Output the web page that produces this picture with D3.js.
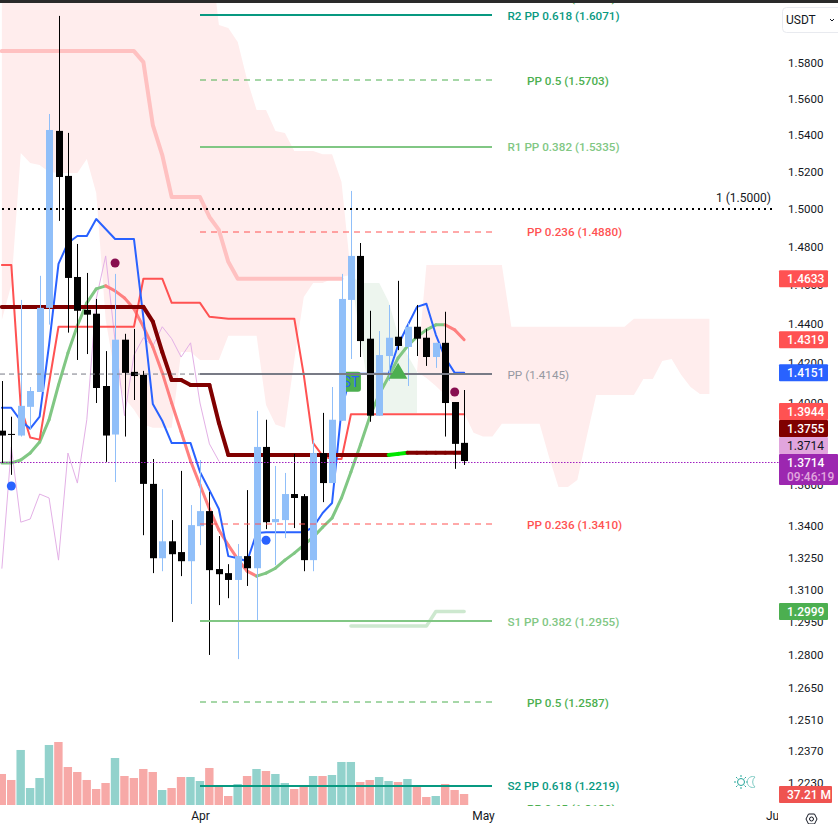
<!DOCTYPE html>
<html>
<head>
<meta charset="utf-8">
<script src="https://cdnjs.cloudflare.com/ajax/libs/d3/7.8.5/d3.min.js"></script>
<style>
  html, body { margin: 0; padding: 0; background: #fff; overflow: hidden; }
  text { font-family: Roboto, "Liberation Sans", sans-serif; }
</style>
</head>
<body>
<svg class="chart" width="838" height="824"></svg>
<script>
// daily bars, first one is 11 Mar, last one is 29 Apr
const opens = [
  1.3863, 1.3847, 1.3839, 1.3981, 1.4055, 1.4482, 1.5423, 1.5178, 1.4642, 1.4472,
  1.4452, 1.4085, 1.3844, 1.4319, 1.4156, 1.4141, 1.3603, 1.3248, 1.3328, 1.3277,
  1.3234, 1.3400, 1.3472, 1.3197, 1.3178, 1.3146, 1.3258, 1.3201, 1.3783, 1.3419,
  1.3429, 1.3554, 1.3544, 1.3239, 1.3753, 1.3607, 1.3912, 1.4523, 1.4752, 1.4324,
  1.3937, 1.4236, 1.4334, 1.4282, 1.4385, 1.4329, 1.4231, 1.4303, 1.4005, 1.3803
]
const highs = [
  1.4110, 1.3932, 1.4523, 1.4080, 1.4648, 1.5516, 1.6067, 1.5412, 1.4815, 1.4663,
  1.4528, 1.4261, 1.4658, 1.4349, 1.4374, 1.4161, 1.3724, 1.3578, 1.3429, 1.3666,
  1.3501, 1.3719, 1.3564, 1.3353, 1.3220, 1.3315, 1.3573, 1.3961, 1.3917, 1.3690,
  1.3656, 1.3749, 1.3554, 1.3817, 1.3951, 1.4080, 1.4658, 1.5097, 1.4820, 1.4467,
  1.4363, 1.4497, 1.4622, 1.4405, 1.4497, 1.4374, 1.4303, 1.4462, 1.4005, 1.4065
]
const lows = [
  1.3705, 1.3647, 1.3834, 1.3866, 1.4055, 1.4396, 1.4937, 1.4355, 1.4216, 1.4246,
  1.4000, 1.3710, 1.3612, 1.3834, 1.4015, 1.3357, 1.3178, 1.3187, 1.2951, 1.3164,
  1.3034, 1.3310, 1.2800, 1.3029, 1.3061, 1.2781, 1.3118, 1.2951, 1.3386, 1.3215,
  1.3343, 1.3391, 1.3187, 1.3187, 1.3515, 1.3607, 1.3912, 1.4221, 1.4231, 1.3907,
  1.3937, 1.4110, 1.4266, 1.4085, 1.4236, 1.4186, 1.4176, 1.3834, 1.3676, 1.3695
]
const closes = [
  1.3839, 1.3842, 1.3986, 1.4060, 1.4482, 1.5428, 1.5172, 1.4637, 1.4467, 1.4447,
  1.4075, 1.3839, 1.4319, 1.4151, 1.4135, 1.3603, 1.3248, 1.3328, 1.3267, 1.3234,
  1.3405, 1.3472, 1.3192, 1.3173, 1.3146, 1.3258, 1.3201, 1.3783, 1.3419, 1.3434,
  1.3554, 1.3535, 1.3239, 1.3753, 1.3607, 1.3917, 1.4528, 1.4752, 1.4312, 1.3937,
  1.4241, 1.4329, 1.4287, 1.4385, 1.4324, 1.4231, 1.4303, 1.4000, 1.3798, 1.3714
]
const volumes = [
  104.9, 84.6, 186.1, 57.5, 91.3, 203, 213.1, 128.5, 111.6, 84.6,
  54.1, 74.4, 159, 98.1, 91.3, 121.8, 111.6, 50.7, 57.5, 94.7,
  94.7, 81.2, 125.2, 64.3, 30.4, 71, 98.1, 121.8, 115, 104.9,
  74.4, 54.1, 64.3, 98.1, 98.1, 101.5, 145.5, 145.5, 77.8, 84.6,
  94.7, 81.2, 77.8, 88, 64.3, 27.1, 30.4, 71, 50.7, 37.21
]
const volumeSides = [
  'd', 'd', 'u', 'u', 'u', 'u', 'd', 'd', 'd', 'd',
  'd', 'd', 'u', 'd', 'd', 'd', 'd', 'u', 'd', 'd',
  'u', 'u', 'd', 'd', 'd', 'u', 'd', 'u', 'd', 'u',
  'u', 'd', 'd', 'u', 'd', 'u', 'u', 'u', 'd', 'd',
  'u', 'u', 'd', 'u', 'd', 'd', 'u', 'd', 'd', 'd'
]

// indicators, same start day as the bars
const conversionLine = [
  1.3976, 1.3976, 1.3912, 1.3873, 1.3932, 1.4292, 1.4710, 1.4820, 1.4857, 1.4857,
  1.4947, 1.4894, 1.4841, 1.4841, 1.4841, 1.4431, 1.3995, 1.3912, 1.3802, 1.3802,
  1.3802, 1.3661, 1.3573, 1.3482, 1.3258, 1.3248, 1.3234, 1.3367, 1.3371, 1.3371,
  1.3371, 1.3371, 1.3371, 1.3395, 1.3463, 1.3511, 1.3966, 1.4146, 1.4146, 1.4146,
  1.4146, 1.4146, 1.4292, 1.4390, 1.4487, 1.4503, 1.4344, 1.4226, 1.4151, 1.4151
]
const baseLine = [
  1.4705, 1.4705, 1.3981, 1.3829, 1.3819, 1.4100, 1.4385, 1.4385, 1.4385, 1.4385,
  1.4385, 1.4385, 1.4385, 1.4385, 1.4385, 1.4633, 1.4633, 1.4633, 1.4508, 1.4508,
  1.4508, 1.4508, 1.4436, 1.4431, 1.4426, 1.4426, 1.4426, 1.4426, 1.4426, 1.4426,
  1.4426, 1.4426, 1.4141, 1.3802, 1.3739, 1.3724, 1.3724, 1.3944, 1.3944, 1.3944,
  1.3944, 1.3944, 1.3944, 1.3944, 1.3944, 1.3944, 1.3944, 1.3944, 1.3944, 1.3944
]
const smoothMa = [
  1.3705, 1.3705, 1.3719, 1.3753, 1.3807, 1.3917, 1.4090, 1.4251, 1.4390, 1.4508,
  1.4580, 1.4596, 1.4570, 1.4533, 1.4477, 1.4385, 1.4282, 1.4151, 1.4000, 1.3858,
  1.3714, 1.3598, 1.3482, 1.3382, 1.3310, 1.3244, 1.3187, 1.3164, 1.3178, 1.3201,
  1.3239, 1.3272, 1.3310, 1.3348, 1.3395, 1.3439, 1.3535, 1.3661, 1.3793, 1.3932,
  1.4045, 1.4131, 1.4226, 1.4287, 1.4334, 1.4369, 1.4395, 1.4395, 1.4369, 1.4319
]
const slowMa = [
  1.4487, 1.4487, 1.4487, 1.4487, 1.4487, 1.4487, 1.4487, 1.4487, 1.4487, 1.4487,
  1.4487, 1.4487, 1.4487, 1.4487, 1.4487, 1.4487, 1.4411, 1.4256, 1.4115, 1.4115,
  1.4090, 1.4090, 1.4090, 1.3902, 1.3744, 1.3744, 1.3744, 1.3744, 1.3744, 1.3744,
  1.3744, 1.3744, 1.3744, 1.3744, 1.3744, 1.3744, 1.3744, 1.3744, 1.3744, 1.3744,
  1.3744, 1.3744, 1.3749, 1.3755, 1.3755, 1.3755, 1.3755, 1.3755, 1.3755, 1.3755
]
const laggingSpan = [
  1.3201, 1.3783, 1.3419, 1.3434, 1.3554, 1.3535, 1.3239, 1.3753, 1.3607, 1.3917,
  1.4528, 1.4752, 1.4312, 1.3937, 1.4241, 1.4329, 1.4287, 1.4385, 1.4324, 1.4231,
  1.4303, 1.4000, 1.3798, 1.3714
]
const leadingB = [
  1.5867, 1.5867, 1.5867, 1.5867, 1.5867, 1.5867, 1.5867, 1.5867, 1.5867, 1.5867,
  1.5867, 1.5867, 1.5867, 1.5867, 1.5867, 1.5805, 1.5455, 1.5291, 1.5064, 1.5064,
  1.5064, 1.5064, 1.4958, 1.4889, 1.4721, 1.4633, 1.4633, 1.4633, 1.4633, 1.4633,
  1.4633, 1.4633, 1.4633, 1.4633, 1.4633, 1.4633, 1.4633
]
const cloudTop = [
  1.65, 1.65, 1.65, 1.65, 1.65, 1.65, 1.65, 1.65, 1.65, 1.65,
  1.65, 1.65, 1.65, 1.65, 1.65, 1.65, 1.65, 1.65, 1.65, 1.65,
  1.65, 1.65, 1.65, 1.6015, 1.5998, 1.5919, 1.5705, 1.5538, 1.5538, 1.5423,
  1.5412, 1.5313, 1.5313, 1.5313, 1.5296, 1.5296, 1.5145, 1.4653
]
const cloudBottom = [
  1.4421, 1.4601, 1.5302, 1.5248, 1.5237, 1.5199, 1.5194, 1.5194, 1.5194, 1.5269,
  1.5086, 1.4421, 1.4141, 1.4025, 1.3966, 1.3893, 1.3878, 1.3878, 1.3878, 1.4256,
  1.4256, 1.4216, 1.4216, 1.4216, 1.4339, 1.4339, 1.4339, 1.4339, 1.3990, 1.3893,
  1.3878, 1.4216, 1.4538, 1.4611, 1.4611, 1.4633, 1.4642, 1.4653
]
// bullish part of the cloud, from 17 Apr
const cloudGreenTop = [1.4653, 1.4611, 1.4611, 1.4611, 1.4513, 1.4344, 1.4241, 1.4156]
const cloudGreenBottom = [1.4653, 1.4319, 1.4040, 1.3951, 1.3951, 1.3951, 1.3951, 1.3951]
// projected part, from 24 Apr
const cloudAheadTop = [
  1.4156, 1.4705, 1.4705, 1.4705, 1.4705, 1.4705, 1.4705, 1.4705, 1.4705, 1.4705,
  1.4385, 1.4385, 1.4385, 1.4385, 1.4385, 1.4385, 1.4385, 1.4385, 1.4385, 1.4385,
  1.4385, 1.4385, 1.4385, 1.4426, 1.4426, 1.4426, 1.4426, 1.4426, 1.4426, 1.4426,
  1.4426, 1.4426
]
const cloudAheadBottom = [
  1.4156, 1.4125, 1.4085, 1.4040, 1.3990, 1.3951, 1.3853, 1.3834, 1.3834, 1.3897,
  1.3897, 1.3897, 1.3897, 1.3897, 1.3734, 1.3588, 1.3588, 1.3622, 1.3834, 1.4040,
  1.4040, 1.4040, 1.4040, 1.4040, 1.4120, 1.4120, 1.4211, 1.4221, 1.4141, 1.4080,
  1.4045, 1.4045
]
const supportTrail = [1.2932, 1.2932, 1.2932, 1.2932, 1.2932, 1.2932, 1.2932, 1.2932, 1.2932, 1.2999, 1.2999, 1.2999, 1.2999]

// pivots for April
const pivotValues = [1.6170, 1.6071, 1.5703, 1.5335, 1.4880, 1.4145, 1.3410, 1.2955, 1.2587, 1.2219, 1.2120]
const pivotNames = [
  'PP 0.65', 'R2 PP 0.618', 'PP 0.5', 'R1 PP 0.382', 'PP 0.236', 'PP',
  'PP 0.236', 'S1 PP 0.382', 'PP 0.5', 'S2 PP 0.618', 'PP 0.65'
]
const pivotKinds = [
  'midGreen', 'teal', 'midGreen', 'softGreen', 'red', 'gray',
  'red', 'softGreen', 'midGreen', 'teal', 'midGreen'
]

const priceTicks = [
  1.58, 1.56, 1.54, 1.52, 1.5, 1.48, 1.46, 1.44, 1.42, 1.4, 1.38, 1.36, 1.34,
  1.325, 1.31, 1.295, 1.28, 1.265, 1.251, 1.237, 1.223
]
const scaleBadgeValues = [1.4633, 1.4319, 1.4151, 1.3944, 1.3755, 1.3714, 1.3714, 1.2999]
const scaleBadgeKinds = ['red', 'red', 'blue', 'red', 'maroon', 'plum', 'last', 'green']

// signal dots: bar index and price
const dotBars = [1, 12, 28, 48]
const dotPrices = [1.3593, 1.4715, 1.3333, 1.4055]
const dotKinds = ['blue', 'wine', 'blue', 'wine']
const stBar = 37
const stPrice = 1.4156
const triangleBar = 42
const trianglePrice = 1.4148

const firstDay = new Date(Date.UTC(2025, 2, 11))
const apr1 = new Date(Date.UTC(2025, 3, 1))
const may1 = new Date(Date.UTC(2025, 4, 1))
const jun1 = new Date(Date.UTC(2025, 5, 1))

const paneRight = 779
const paneBottom = 806

const xSc = d3.scaleUtc().domain([apr1, may1]).range([200, 483])
const ySc = d3.scaleLog().domain([1.58, 1.223]).range([63, 783])
const volSc = d3.scaleLinear().domain([0, 213.1]).range([paneBottom - 1, 742])

const dayAt = i => d3.utcDay.offset(firstDay, i)
const xAt = i => xSc(dayAt(i))

const colors = {
  up: '#90bff9',
  down: '#000000',
  volUp: '#92d2cc',
  volDown: '#f7a9a7',
  teal: '#089981',
  midGreen: '#4caf50',
  softGreen: '#81c784',
  red: '#ff5252',
  gray: '#787b86',
  blue: '#2962ff',
  maroon: '#800000',
  plum: '#e1a5dd',
  last: '#9c27b0',
  green: '#4caf50',
  cloud: '#ffeded',
  cloudGreen: '#edf5ee'
}

const chart = d3.select('.chart')

chart
  .append('defs')
  .append('clipPath')
  .attr('id', 'pane')
  .append('rect')
  .attr('x', 0)
  .attr('y', 3)
  .attr('width', paneRight)
  .attr('height', paneBottom - 3)

chart
  .select('defs')
  .append('clipPath')
  .attr('id', 'timeScale')
  .append('rect')
  .attr('x', 0)
  .attr('y', paneBottom)
  .attr('width', paneRight - 1)
  .attr('height', 18)

const pane = chart.append('g').attr('clip-path', 'url(#pane)')

// series helpers, start is the bar index of the first value
function linePath(values, start) {
  return d3
    .line()
    .x((d, i) => xAt(start + i))
    .y(d => ySc(d))(values)
}

function plot_line(values, start, color, width) {
  pane
    .append('path')
    .attr('d', linePath(values, start))
    .attr('fill', 'none')
    .attr('stroke', color)
    .attr('stroke-width', width)
    .attr('stroke-linejoin', 'round')
    .attr('stroke-linecap', 'round')
}

function plot_cloud(top, bottom, start, color) {
  const area = d3
    .area()
    .x((d, i) => xAt(start + i))
    .y0((d, i) => ySc(bottom[i]))
    .y1(d => ySc(d))
  pane
    .append('path')
    .attr('d', area(top))
    .attr('fill', color)
}

// colour each stretch by direction of the line
function plot_two_tone(values, colorOf, width) {
  for (let i = 0; i < values.length - 1; i++) {
    pane
      .append('path')
      .attr('d', linePath([values[i], values[i + 1]], i))
      .attr('fill', 'none')
      .attr('stroke', colorOf(values[i], values[i + 1]))
      .attr('stroke-width', width)
      .attr('stroke-linecap', 'round')
  }
}

plot_cloud(cloudTop, cloudBottom, 0, colors.cloud)
plot_cloud(cloudGreenTop, cloudGreenBottom, 37, colors.cloudGreen)
plot_cloud(cloudAheadTop, cloudAheadBottom, 44, colors.cloud)

// volume
pane
  .selectAll('.vol')
  .data(volumes)
  .enter()
  .append('rect')
  .attr('x', (d, i) => xAt(i) - 4.3)
  .attr('y', d => volSc(d))
  .attr('width', 8.4)
  .attr('height', d => volSc(0) - volSc(d))
  .attr('fill', (d, i) => (volumeSides[i] === 'u' ? colors.volUp : colors.volDown))

plot_line(leadingB, 0, '#ffc1c1', 4)
plot_line(supportTrail, 37, '#cde8cf', 3.5)
plot_line(laggingSpan, 0, '#e3b0e6', 1)
plot_two_tone(smoothMa, (a, b) => (b >= a ? '#81c784' : '#ff8080'), 3)
plot_line(baseLine, 0, colors.red, 2)
plot_line(conversionLine, 0, colors.blue, 2)
plot_two_tone(slowMa, (a, b) => (b > a ? '#00e600' : colors.maroon), 4)

// ST label sits under the candles
const stLabel = pane.append('g')
stLabel
  .append('rect')
  .attr('x', xAt(stBar) - 10)
  .attr('y', ySc(stPrice))
  .attr('width', 20)
  .attr('height', 20)
  .attr('rx', 3)
  .attr('fill', colors.green)
stLabel
  .append('text')
  .attr('x', xAt(stBar))
  .attr('y', ySc(stPrice) + 15)
  .attr('text-anchor', 'middle')
  .attr('font-size', 14)
  .attr('fill', colors.blue)
  .text('ST')

// candles
const candle = pane
  .selectAll('.candle')
  .data(closes)
  .enter()
  .append('g')

candle
  .append('line')
  .attr('x1', (d, i) => Math.round(xAt(i)) + 0.5)
  .attr('x2', (d, i) => Math.round(xAt(i)) + 0.5)
  .attr('y1', (d, i) => ySc(highs[i]))
  .attr('y2', (d, i) => ySc(lows[i]))
  .attr('stroke', (d, i) => (d >= opens[i] ? colors.up : colors.down))
  .attr('stroke-width', 1)

candle
  .append('rect')
  .attr('x', (d, i) => Math.round(xAt(i)) - 3)
  .attr('y', (d, i) => ySc(Math.max(d, opens[i])))
  .attr('width', 7)
  .attr('height', (d, i) => Math.max(1, Math.abs(ySc(d) - ySc(opens[i]))))
  .attr('fill', (d, i) => (d >= opens[i] ? colors.up : colors.down))

// previous pivot runs dashed up to the start of April
pane
  .append('line')
  .attr('x1', 0)
  .attr('x2', xSc(apr1))
  .attr('y1', ySc(1.4145))
  .attr('y2', ySc(1.4145))
  .attr('stroke', colors.gray)
  .attr('stroke-dasharray', '5 4')

// current pivots
const pivotEnd = 492
pivotValues.forEach(function(value, i) {
  const kind = pivotKinds[i]
  const solid = pivotNames[i] === 'PP' || pivotNames[i].includes('R') || pivotNames[i].includes('S')
  pane
    .append('line')
    .attr('x1', xSc(apr1))
    .attr('x2', pivotEnd)
    .attr('y1', Math.round(ySc(value)))
    .attr('y2', Math.round(ySc(value)))
    .attr('stroke', colors[kind])
    .attr('stroke-width', solid ? 2 : 1)
    .attr('stroke-dasharray', solid ? null : '6 5')
  const label = pivotNames[i] === 'PP' ? `PP (${value.toFixed(4)})` : `${pivotNames[i]} (${value.toFixed(4)})`
  pane
    .append('text')
    .attr('x', solid ? 507.5 : 527)
    .attr('y', ySc(value) + 4.5)
    .attr('font-size', 11.7)
    .attr('font-weight', kind === 'gray' ? 400 : 500)
    .attr('fill', kind === 'gray' ? '#9598a1' : colors[kind])
    .text(label)
})

// round number level
pane
  .append('line')
  .attr('x1', 2)
  .attr('x2', paneRight - 5)
  .attr('y1', ySc(1.5))
  .attr('y2', ySc(1.5))
  .attr('stroke', '#000')
  .attr('stroke-width', 2)
  .attr('stroke-dasharray', '2 4')
pane
  .append('text')
  .attr('x', 716)
  .attr('y', ySc(1.5) - 7)
  .attr('font-size', 12)
  .attr('fill', '#131722')
  .text('1 (1.5000)')

// last price
pane
  .append('line')
  .attr('x1', 0)
  .attr('x2', paneRight)
  .attr('y1', Math.round(ySc(closes[49])) + 1.5)
  .attr('y2', Math.round(ySc(closes[49])) + 1.5)
  .attr('stroke', '#a01fc0')
  .attr('stroke-width', 1)
  .attr('stroke-dasharray', '1.5 1.5')

pane
  .selectAll('.dot')
  .data(dotBars)
  .enter()
  .append('circle')
  .attr('cx', d => xAt(d))
  .attr('cy', (d, i) => ySc(dotPrices[i]))
  .attr('r', 4.5)
  .attr('fill', (d, i) => (dotKinds[i] === 'blue' ? colors.blue : '#880e4f'))

pane
  .append('path')
  .attr('d', d3.symbol().type(d3.symbolTriangle).size(150)())
  .attr('transform', `translate(${xAt(triangleBar)},${ySc(trianglePrice)})`)
  .attr('fill', colors.green)

// price scale
const yAxis = chart
  .append('g')
  .attr('transform', `translate(${paneRight},0)`)
  .call(
    d3
      .axisRight(ySc)
      .tickValues(priceTicks)
      .tickFormat(d3.format('.4f'))
      .tickSize(0)
      .tickPadding(9)
  )
yAxis.select('.domain').remove()
yAxis
  .selectAll('text')
  .attr('font-family', 'Roboto, sans-serif')
  .attr('font-size', 11.5)
  .attr('fill', '#131722')

// time scale
const xAxis = chart
  .append('g')
  .attr('clip-path', 'url(#timeScale)')
  .append('g')
  .attr('transform', `translate(0,${paneBottom})`)
  .call(
    d3
      .axisBottom(xSc)
      .tickValues([apr1, may1, jun1])
      .tickFormat(d3.utcFormat('%b'))
      .tickSize(0)
      .tickPadding(5)
  )
xAxis.select('.domain').remove()
xAxis
  .selectAll('text')
  .attr('font-family', 'Roboto, sans-serif')
  .attr('font-size', 12)
  .attr('fill', '#131722')

// badges on the price scale, pushed up when they collide
const badgeHeight = 17
const badges = scaleBadgeValues.map((value, i) => {
  const kind = scaleBadgeKinds[i]
  const h = kind === 'last' ? 31 : badgeHeight
  return { value, kind, h, top: ySc(value) - (kind === 'last' ? 7 : 8.5) }
})
const stackOrder = badges.slice(0, 7).reverse()
for (let i = 1; i < stackOrder.length; i++) {
  const below = stackOrder[i - 1]
  if (stackOrder[i].top + stackOrder[i].h > below.top) {
    stackOrder[i].top = below.top - stackOrder[i].h
  }
}

const badge = chart
  .selectAll('.badge')
  .data(badges)
  .enter()
  .append('g')

badge
  .append('rect')
  .attr('x', paneRight)
  .attr('y', d => d.top)
  .attr('width', d => (d.kind === 'last' ? 59 : 49))
  .attr('height', d => d.h)
  .attr('rx', 1)
  .attr('fill', d => colors[d.kind])

badge
  .append('text')
  .attr('x', 787)
  .attr('y', d => d.top + 13)
  .attr('font-size', 12)
  .attr('font-weight', d => (d.kind === 'plum' ? 400 : 500))
  .attr('fill', d => (d.kind === 'plum' ? '#131722' : '#fff'))
  .text(d => d.value.toFixed(4))

chart
  .append('text')
  .attr('x', 787)
  .attr('y', badges[6].top + 27)
  .attr('font-size', 12)
  .attr('font-weight', 500)
  .attr('fill', '#e1a5dd')
  .text('09:46:19')

// volume badge
const volBadgeTop = volSc(volumes[49]) - 8
chart
  .append('rect')
  .attr('x', paneRight)
  .attr('y', volBadgeTop)
  .attr('width', 53)
  .attr('height', badgeHeight)
  .attr('rx', 1)
  .attr('fill', '#ef5350')
chart
  .append('text')
  .attr('x', 787)
  .attr('y', volBadgeTop + 13)
  .attr('font-size', 12)
  .attr('font-weight', 500)
  .attr('fill', '#fff')
  .text(`${volumes[49].toFixed(2)} M`)

// currency selector
chart
  .append('rect')
  .attr('x', 782.5)
  .attr('y', 7.5)
  .attr('width', 60)
  .attr('height', 25)
  .attr('rx', 4)
  .attr('fill', '#fff')
  .attr('stroke', '#e8eaef')
chart
  .append('text')
  .attr('x', 786)
  .attr('y', 24)
  .attr('font-size', 12)
  .attr('fill', '#131722')
  .text('USDT')
chart
  .append('path')
  .attr('d', 'M830 19 l2 2 l2 -2')
  .attr('fill', 'none')
  .attr('stroke', '#131722')

// session icon
const sun = chart.append('g').attr('stroke', '#26a69a').attr('fill', 'none')
sun.append('circle').attr('cx', 741).attr('cy', 782).attr('r', 3.5)
d3.range(8).forEach(function(i) {
  const a = (i * Math.PI) / 4
  sun
    .append('line')
    .attr('x1', 741 + 5 * Math.cos(a))
    .attr('y1', 782 + 5 * Math.sin(a))
    .attr('x2', 741 + 7 * Math.cos(a))
    .attr('y2', 782 + 7 * Math.sin(a))
})
chart
  .append('path')
  .attr('d', 'M755 777 a5.5 5.5 0 1 0 0 10 a6.5 6.5 0 0 1 0 -10')
  .attr('fill', 'none')
  .attr('stroke', '#80cbc4')

// settings
chart
  .append('path')
  .attr('d', 'M806 819 l2.5 -5 h6 l2.5 5 l-2.5 5 h-6 z')
  .attr('fill', 'none')
  .attr('stroke', '#131722')
chart
  .append('circle')
  .attr('cx', 811.5)
  .attr('cy', 819)
  .attr('r', 2)
  .attr('fill', 'none')
  .attr('stroke', '#131722')

// window edge
chart
  .append('rect')
  .attr('width', 838)
  .attr('height', 3)
  .attr('fill', '#2a2a2a')
</script>
</body>
</html>
